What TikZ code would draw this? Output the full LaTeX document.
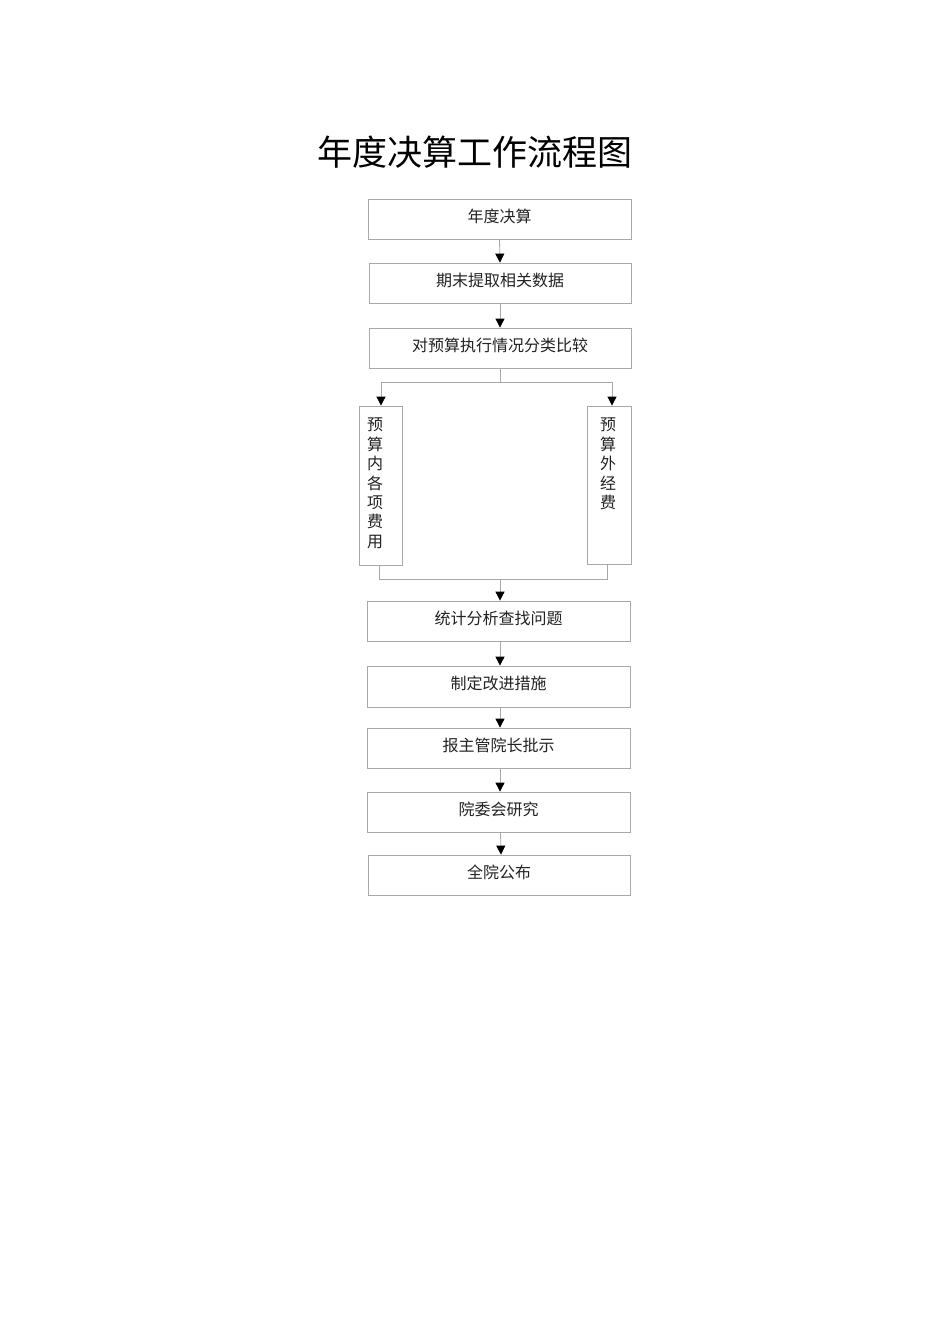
\documentclass[tikz,border=0pt]{standalone}
\usepackage{fontspec}
\newfontfamily\cjk{Noto Sans CJK SC}
\usetikzlibrary{arrows.meta}
\definecolor{edge}{HTML}{A8A8A8}
\definecolor{txt}{HTML}{222222}
\begin{document}
\begin{tikzpicture}[x=1pt,y=-1pt,
  box/.style={draw=edge, line width=0.8pt, minimum width=263pt, minimum height=40pt, inner sep=0pt, text height=10pt, text depth=4pt, text=txt, font=\cjk\fontsize{16}{19}\selectfont},
  vbox/.style={draw=edge, line width=0.8pt, minimum width=43pt, minimum height=159pt, inner sep=0pt},
  vtext/.style={anchor=north, align=center, inner sep=0pt, text=txt, font=\cjk\fontsize{16}{19.4}\selectfont},
  link/.style={draw=edge, line width=0.8pt},
  arr/.style={link, -{Triangle[width=9pt,length=9pt,black]}}]
\fill[white] (0,0) rectangle (950,1344);
\useasboundingbox (0,0) rectangle (950,1344);
\node[inner sep=0pt, font=\cjk\fontsize{35}{40}\selectfont] (title) at (475,152) {年度决算工作流程图};
\node[box] (b1) at (499.5,219) {年度决算};
\node[box, minimum width=262pt] (b2) at (500,283) {期末提取相关数据};
\node[box, minimum width=262pt] (b3) at (500,348) {对预算执行情况分类比较};
\node[vbox] (L) at (380.5,485.5) {};
\node[vbox, minimum width=44pt, minimum height=158pt] (R) at (609,485) {};
\node[vtext] (Lt) at (375,418) {预\\算\\内\\各\\项\\费\\用};
\node[vtext] (Rt) at (608,418) {预\\算\\外\\经\\费};
\node[box] (b4) at (498.5,621) {统计分析查找问题};
\node[box, minimum height=41pt] (b5) at (498.5,686.5) {制定改进措施};
\node[box] (b6) at (498.5,748) {报主管院长批示};
\node[box] (b7) at (498.5,812) {院委会研究};
\node[box, minimum width=262pt] (b8) at (499,875) {全院公布};
\draw[arr] (b1.south) -- (b2.north);
\draw[arr] (b2.south) -- (b3.north);
\coordinate (sp) at (500,382);
\coordinate (sl) at (381,382);
\coordinate (sr) at (612,382);
\draw[link] (b3.south) -- (sp);
\draw[arr] (sp) -- (sl) -- (sl |- L.north);
\draw[arr] (sp) -- (sr) -- (sr |- R.north);
\coordinate (ml) at (379,579);
\coordinate (mr) at (607,579);
\coordinate (mm) at (500,579);
\draw[link] (ml |- L.south) -- (ml) -- (mr) -- (mr |- R.south);
\draw[arr] (mm) -- (mm |- b4.north);
\draw[arr] ([xshift=1.5pt]b4.south) -- ([xshift=1.5pt]b5.north);
\draw[arr] ([xshift=1.5pt]b5.south) -- ([xshift=1.5pt]b6.north);
\draw[arr] ([xshift=1.5pt]b6.south) -- ([xshift=1.5pt]b7.north);
\draw[arr] ([xshift=2pt]b7.south) -- ([xshift=2pt]b8.north);
\end{tikzpicture}
\end{document}
